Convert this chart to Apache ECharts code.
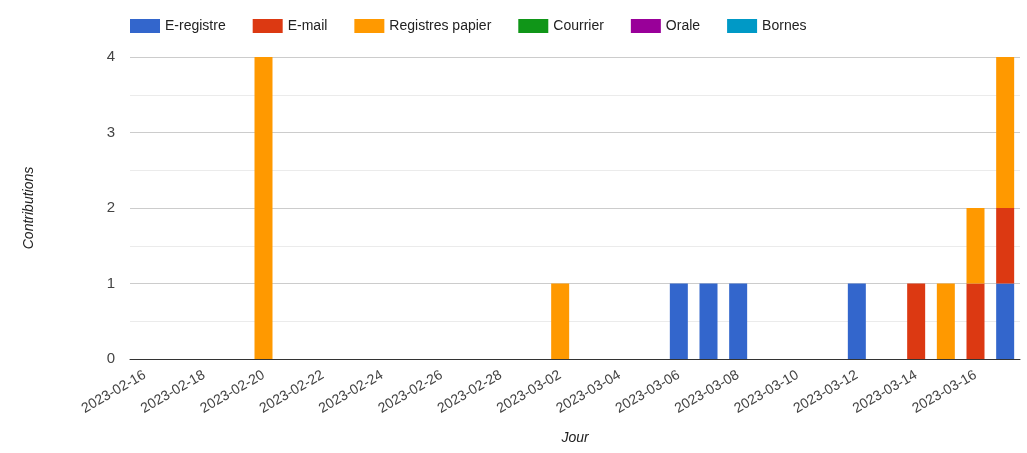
<!DOCTYPE html>
<html>
<head>
<meta charset="utf-8">
<script src="https://cdn.jsdelivr.net/npm/echarts@6/dist/echarts.min.js"></script>
<style>html,body{margin:0;padding:0;background:#fff}#c{width:1027px;height:453px}</style>
</head>
<body>
<div id="c"></div>
<script>
// days 2023-02-16 .. 2023-03-17
var DAYS = [];
(function () {
  var d = new Date(Date.UTC(2023, 1, 16));
  for (var i = 0; i < 30; i++) {
    DAYS.push(d.toISOString().slice(0, 10));
    d.setUTCDate(d.getUTCDate() + 1);
  }
})();

var SERIES_NAMES = ["E-registre", "E-mail", "Registres papier", "Courrier", "Orale", "Bornes"];
var COLORS = ["#3366cc", "#dc3912", "#ff9900", "#109618", "#990099", "#0099c6"];

// non-zero counts per day, by series
var E_REGISTRE = { "2023-03-06": 1, "2023-03-07": 1, "2023-03-08": 1, "2023-03-12": 1, "2023-03-17": 1 };
var E_MAIL = { "2023-03-14": 1, "2023-03-16": 1, "2023-03-17": 1 };
var PAPIER = { "2023-02-20": 4, "2023-03-02": 1, "2023-03-15": 1, "2023-03-16": 1, "2023-03-17": 2 };
var COURRIER = {}, ORALE = {}, BORNES = {};
var VALUES = [E_REGISTRE, E_MAIL, PAPIER, COURRIER, ORALE, BORNES];

var chart = echarts.init(document.getElementById("c"));
var font = "Liberation Sans, Arial, sans-serif";

chart.setOption({
  animation: false,
  textStyle: { fontFamily: font },
  legend: {
    top: 14, left: 125, itemWidth: 30, itemHeight: 14, itemGap: 27,
    icon: "rect",
    textStyle: { fontSize: 14, color: "#222", fontFamily: font },
    data: SERIES_NAMES
  },
  grid: { left: 130, right: 7, top: 57, bottom: 94 },
  xAxis: {
    type: "category", data: DAYS,
    name: "Jour", nameLocation: "middle", nameGap: 72,
    nameTextStyle: { fontStyle: "italic", fontSize: 14, color: "#222" },
    axisLine: { lineStyle: { color: "#333" } },
    axisTick: { show: false },
    axisLabel: { interval: 1, rotate: 30, fontSize: 14, color: "#444", margin: 15 }
  },
  yAxis: {
    type: "value", min: 0, max: 4, interval: 1,
    name: "Contributions", nameLocation: "middle", nameGap: 94,
    nameTextStyle: { fontStyle: "italic", fontSize: 14, color: "#222" },
    axisLabel: { fontSize: 15, color: "#444", margin: 15 },
    splitLine: { lineStyle: { color: "#cccccc" } },
    minorTick: { show: false, splitNumber: 2 },
    minorSplitLine: { show: true, lineStyle: { color: "#ebebeb" } }
  },
  series: SERIES_NAMES.map(function (n, i) {
    return {
      name: n, type: "bar", stack: "t", barWidth: 18,
      itemStyle: { color: COLORS[i] },
      data: DAYS.map(function (d) { return VALUES[i][d] || 0; })
    };
  })
});
</script>
</body>
</html>
